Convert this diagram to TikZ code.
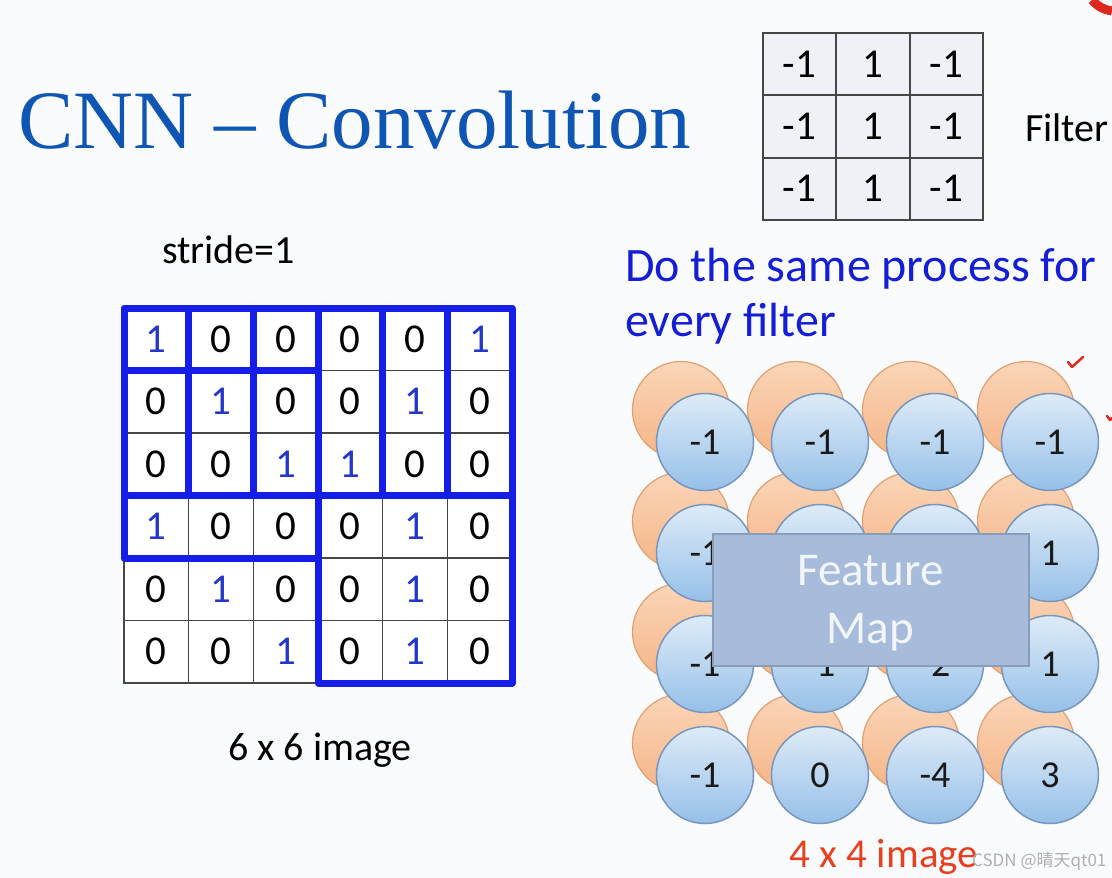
\documentclass[tikz,border=0pt]{standalone}
\usepackage{fontspec}
\setmainfont{Carlito}
\newfontfamily\titlefont{Liberation Serif}
\newfontfamily\cjkfont{Noto Sans CJK SC}
\definecolor{bgc}{RGB}{250,251,253}
\definecolor{titleblue}{RGB}{15,85,180}
\definecolor{doblue}{RGB}{20,30,215}
\definecolor{oneblue}{RGB}{35,55,200}
\definecolor{winblue}{RGB}{20,30,230}
\definecolor{gridline}{RGB}{70,70,70}
\definecolor{filtfill}{RGB}{238,241,246}
\definecolor{orangetop}{RGB}{251,214,184}
\definecolor{orangebot}{RGB}{245,180,135}
\definecolor{orangeline}{RGB}{226,160,112}
\definecolor{bluetop}{RGB}{222,235,248}
\definecolor{bluebot}{RGB}{150,192,232}
\definecolor{blueline}{RGB}{120,150,190}
\definecolor{fmfill}{RGB}{166,188,218}
\definecolor{fmline}{RGB}{138,157,184}
\definecolor{fmtext}{RGB}{242,245,250}
\definecolor{redtext}{RGB}{232,64,30}
\definecolor{markred}{RGB}{220,40,30}
\definecolor{wmgray}{RGB}{175,175,175}
\begin{document}
\begin{tikzpicture}[x=1pt,y=-1pt,
  lbl/.style={inner sep=0pt, font=\fontsize{40}{48}\selectfont},
  cell/.style={draw=gridline, line width=1.5pt, fill=white, inner sep=0pt, outer sep=0pt,
    minimum width=64.67pt, minimum height=62.5pt, font=\fontsize{41}{48}\selectfont},
  win/.style={draw=winblue, line width=7pt, line join=round},
  fcell/.style={draw=gridline, line width=2pt, fill=filtfill, inner sep=0pt, outer sep=0pt,
    minimum width=73.3pt, minimum height=62.3pt, font=\fontsize{41}{48}\selectfont},
  ocirc/.style={circle, draw=orangeline, line width=1.2pt, top color=orangetop, bottom color=orangebot,
    minimum size=97pt, inner sep=0pt},
  bcirc/.style={circle, draw=blueline, line width=1.5pt, top color=bluetop, bottom color=bluebot,
    minimum size=97pt, inner sep=0pt, text=black!90, font=\fontsize{38}{44}\selectfont},
  fmbox/.style={draw=fmline, line width=2pt, fill=fmfill, inner sep=0pt, outer sep=0pt,
    minimum width=316pt, minimum height=132pt, text=fmtext, align=center,
    font=\fontsize{47}{58}\selectfont},
  redmark/.style={draw=markred, line width=2.5pt, line cap=round, line join=round}
]
\useasboundingbox (0,0) rectangle (1112,878);
\fill[bgc] (0,0) rectangle (1112,878);

% title
\node[anchor=base west, inner sep=0pt, text=titleblue, font=\titlefont\fontsize{83}{90}\selectfont] (title) at (18,148) {CNN – Convolution};

% filter
\foreach \row [count=\r] in {{-1,1,-1},{-1,1,-1},{-1,1,-1}} {
  \foreach \v [count=\c] in \row {
    \node[fcell] (f-\r-\c) at ({763+(\c-0.5)*73.3},{33+(\r-0.5)*62.3}) {\v};
  }
}
\node[lbl, anchor=west] (filterlbl) at (1025,128) {Filter};

% stride
\node[lbl, anchor=base west] (stride) at (162,263) {stride=1};

% 6x6 grid
\foreach \row [count=\r] in {{1,0,0,0,0,1},{0,1,0,0,1,0},{0,0,1,1,0,0},{1,0,0,0,1,0},{0,1,0,0,1,0},{0,0,1,0,1,0}} {
  \foreach \v [count=\c] in \row {
    \ifnum\v=1 \def\tc{oneblue}\else\def\tc{black}\fi
    \node[cell, text=\tc] (g-\r-\c) at ({124+(\c-0.5)*64.67},{308+(\r-0.5)*62.5}) {\v};
  }
}
\draw[win] (g-1-1.north west) rectangle (g-3-3.south east);
\draw[win] (g-1-2.north west) rectangle (g-3-4.south east);
\draw[win] (g-1-3.north west) rectangle (g-3-5.south east);
\draw[win] (g-1-4.north west) rectangle (g-3-6.south east);
\draw[win] (g-2-1.north west) rectangle (g-4-3.south east);
\draw[win] (g-4-4.north west) rectangle (g-6-6.south east);

\node[lbl, anchor=base] (img6) at (320,760) {6 x 6 image};

% right text
\node[anchor=base west, inner sep=0pt, text=doblue, align=left, font=\fontsize{48}{55}\selectfont] (dosame) at (625,336) {Do the same process for\\every filter};

% circles
\foreach \r in {1,...,4} {
  \foreach \c in {1,...,4} {
    \node[ocirc] (o-\r-\c) at ({681+(\c-1)*115},{410+(\r-1)*111}) {};
  }
}
\foreach \row [count=\r] in {{-1,-1,-1,-1},{-1,{},{},1},{-1,-1,-2,1},{-1,0,-4,3}} {
  \foreach \v [count=\c] in \row {
    \node[bcirc] (b-\r-\c) at ({705+(\c-1)*115},{442+(\r-1)*111}) {\v};
  }
}
\node[fmbox] (fm) at (870.5,600) {};
\node[inner sep=0pt, text=fmtext, align=center, font=\fontsize{47}{58}\selectfont] (fmtxt) at (870.5,603) {Feature\\Map};

\node[anchor=base, inner sep=0pt, text=redtext, font=\fontsize{41}{48}\selectfont] (img4) at (884,867) {4 x 4 image};

% watermark
\node[anchor=base west, inner sep=0pt, text=wmgray, font=\cjkfont\fontsize{17}{20}\selectfont] (wm) at (972,866) {CSDN @晴天qt01};

% red annotation marks
\draw[redmark] (1068,362) -- (1072,367) -- (1083,357);
\draw[redmark] (1107,416) -- (1110,420) -- (1112,418);
\draw[markred, line width=9pt] (1092,0) .. controls (1098,7) and (1105,10) .. (1112,11);
\end{tikzpicture}
\end{document}
